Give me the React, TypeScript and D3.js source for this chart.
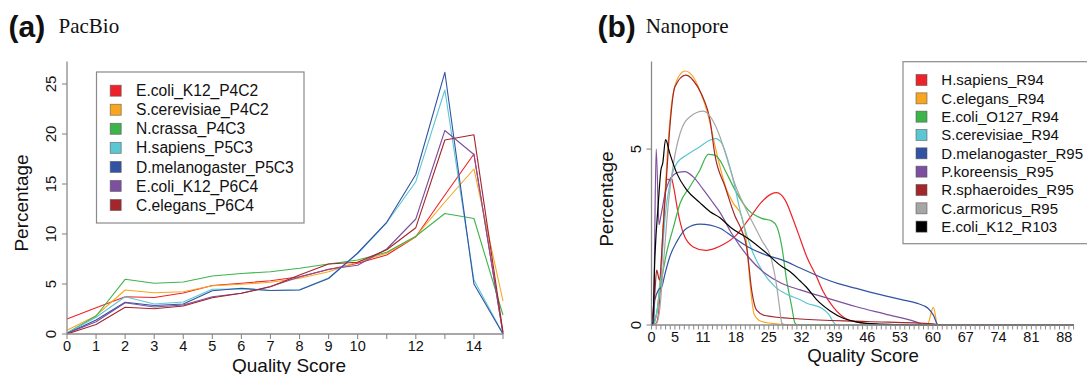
import React from "react";
import * as d3 from "d3";

// ---------- Panel (a) PacBio ----------
const PB_SCORES = [0, 1, 2, 3, 4, 5, 6, 7, 8, 9, 10, 11, 12, 13, 14, 15];
const PB_TICK_LABELS = ["0", "1", "2", "3", "4", "5", "6", "7", "8", "9", "10", "", "12", "", "14", ""];
const PB_Y_TICKS = [0, 5, 10, 15, 20, 25];
const PB_NAMES = [
  "E.coli_K12_P4C2",
  "S.cerevisiae_P4C2",
  "N.crassa_P4C3",
  "H.sapiens_P5C3",
  "D.melanogaster_P5C3",
  "E.coli_K12_P6C4",
  "C.elegans_P6C4",
];
const PB_COLORS = ["#EE2229", "#FAA51E", "#3DB44B", "#5CC6D2", "#3253A3", "#7D4F9F", "#A3262B"];
const PB_ECOLI_P4C2 = [1.5, 2.62, 3.73, 3.65, 4.1, 4.85, 5.07, 5.33, 5.73, 6.45, 7.07, 7.9, 9.72, 13.9, 18.0, 0];
const PB_SCER_P4C2 = [0.37, 1.83, 4.4, 4.13, 4.23, 4.83, 4.97, 5.17, 5.57, 6.23, 7.2, 8.07, 9.75, 13.2, 16.5, 3.3];
const PB_NCRASSA_P4C3 = [0.1, 1.8, 5.47, 5.07, 5.2, 5.8, 6.05, 6.23, 6.57, 7.0, 7.4, 8.17, 9.78, 12.05, 11.55, 1.9];
const PB_HSAP_P5C3 = [0.1, 1.67, 3.73, 3.0, 3.2, 4.47, 4.5, 4.35, 4.42, 5.6, 8.05, 11.15, 15.23, 24.4, 5.4, 0];
const PB_DMEL_P5C3 = [0.05, 1.4, 3.17, 2.85, 3.0, 4.33, 4.58, 4.35, 4.4, 5.55, 8.1, 11.17, 15.95, 26.17, 5.0, 0];
const PB_ECOLI_P6C4 = [0.05, 1.23, 3.13, 2.7, 2.9, 3.73, 4.07, 4.75, 5.7, 6.47, 6.87, 8.5, 11.5, 20.35, 17.95, 0];
const PB_CELE_P6C4 = [0, 0.95, 2.67, 2.53, 2.8, 3.63, 4.07, 4.73, 5.9, 7.0, 7.18, 8.42, 10.63, 19.4, 19.92, 0.2];
const PB_VALUES = [PB_ECOLI_P4C2, PB_SCER_P4C2, PB_NCRASSA_P4C3, PB_HSAP_P5C3, PB_DMEL_P5C3, PB_ECOLI_P6C4, PB_CELE_P6C4];

// ---------- Panel (b) Nanopore ----------
const NP_X_LABELS = [0, 5, 11, 18, 25, 32, 39, 46, 53, 60, 67, 74, 81, 88];
const NP_Y_TICKS = [0, 5];
const NP_NAMES = [
  "H.sapiens_R94",
  "C.elegans_R94",
  "E.coli_O127_R94",
  "S.cerevisiae_R94",
  "D.melanogaster_R95",
  "P.koreensis_R95",
  "R.sphaeroides_R95",
  "C.armoricus_R95",
  "E.coli_K12_R103",
];
const NP_COLORS = ["#EE2229", "#FAA51E", "#3DB44B", "#5CC6D2", "#3253A3", "#7D4F9F", "#A3262B", "#A6A6A6", "#000000"];

const NP_HSAP_R94: [number, number][] = [
  [0, 0], [1, 0.05], [1.5, 0.33], [2.2, 1.85], [2.9, 3.74], [3.4, 4.15], [3.8, 4.12], [4.2, 4.2], [4.7, 3.93],
  [5.7, 3.17], [6.8, 2.6], [8.9, 2.22], [11.5, 2.12], [13.5, 2.18], [15.5, 2.3], [17.8, 2.52], [20.6, 2.98],
  [23.5, 3.5], [25.5, 3.72], [26.7, 3.76], [28.5, 3.55], [30.2, 3.0], [31.7, 2.45], [33.1, 1.94], [35.2, 1.37],
  [36.6, 0.95], [38.8, 0.5], [41.6, 0.17], [45.2, 0.05], [50, 0.01], [55, 0], [90, 0],
];
const NP_CELE_R94: [number, number][] = [
  [0, 0], [1.1, 0.33], [2.0, 1.66], [2.7, 3.27], [3.4, 4.9], [4.3, 6.3], [5.4, 6.96], [7.2, 7.22], [8.9, 7.05],
  [10.5, 6.6], [12, 6.0], [13.2, 5.3], [14.5, 4.55], [16, 3.85], [17.5, 3.45], [19.2, 3.1], [20.3, 2.3],
  [21.0, 1.2], [21.9, 0.3], [23.5, 0.1], [27.8, 0.02], [30, 0], [58.8, 0], [60.1, 0.5], [61, 0], [90, 0],
];
const NP_ECOLI_O127_R94: [number, number][] = [
  [0, 0], [0.4, 0], [1.1, 0.33], [1.8, 1.0], [3.2, 2.04], [4.7, 2.79], [6.1, 3.46], [8.2, 3.93], [10.3, 4.4],
  [12.1, 4.85], [13.5, 4.83], [14.6, 4.68], [15.7, 4.4], [17.8, 3.84], [20.6, 3.27], [23.5, 3.03], [25.6, 2.96],
  [26.7, 2.8], [27.8, 2.22], [28.8, 1.28], [29.9, 0.52], [30.6, 0.05], [31.2, 0], [90, 0],
];
const NP_SCER_R94: [number, number][] = [
  [0, 0], [0.75, 0.14], [1.5, 0.7], [2.2, 1.85], [2.9, 3.08], [3.9, 4.0], [5.4, 4.6], [7.5, 4.83], [10.3, 5.07],
  [12.5, 5.26], [13.7, 5.3], [15, 5.16], [17.1, 4.3], [19.2, 3.08], [21.4, 2.13], [23.5, 1.56], [26.3, 1.09],
  [29.2, 0.85], [31.7, 0.72], [33.1, 0.62], [36.4, 0.47], [37.8, 0.3], [38.8, 0.08], [39.5, 0], [90, 0],
];
const NP_DMEL_R95: [number, number][] = [
  [0, 0], [0.4, 0.05], [0.7, 0.7], [1.5, 1.0], [2.2, 1.09], [2.9, 1.47], [3.9, 1.94], [5.4, 2.37], [7.5, 2.75],
  [10.3, 2.87], [12.5, 2.84], [14.6, 2.75], [17.4, 2.5], [20.6, 2.22], [24.6, 1.98], [27.8, 1.85], [31.7, 1.62],
  [36.6, 1.33], [40, 1.17], [43.7, 1.04], [47, 0.92], [50.8, 0.8], [54, 0.7], [56.5, 0.62], [59, 0.47],
  [60.1, 0.28], [61.1, 0], [90, 0],
];
const NP_PKOR_R95: [number, number][] = [
  [0, 0], [0.4, 0.1], [1.0, 5.0], [1.6, 2.85], [2.0, 3.1], [2.9, 3.74], [3.9, 4.12], [5.7, 4.34], [7.1, 4.36],
  [8.9, 4.21], [11.1, 3.84], [13.2, 3.46], [14.6, 3.2], [17.1, 2.6], [20.6, 1.94], [24.2, 1.47], [27.8, 1.18],
  [31.7, 1.0], [36.6, 0.8], [43.7, 0.52], [50.8, 0.28], [57.2, 0.05], [58, 0], [90, 0],
];
const NP_RSPH_R95: [number, number][] = [
  [0, 0], [0.7, 0.9], [1.1, 1.56], [1.7, 1.28], [2.5, 2.8], [3.2, 4.2], [3.9, 5.6], [5.0, 6.77], [7.3, 7.1],
  [8.9, 6.95], [10.7, 6.55], [12.5, 5.8], [13.5, 4.85], [15.7, 3.93], [17.8, 3.1], [19.2, 2.7], [20.3, 2.2],
  [21.4, 0.95], [22.4, 0.42], [24.2, 0.27], [31.7, 0.17], [45.9, 0.1], [60, 0.03], [62, 0], [90, 0],
];
const NP_CARM_R95: [number, number][] = [
  [0, 0], [1.1, 0.05], [1.8, 0.5], [2.5, 1.66], [3.6, 3.46], [4.7, 4.6], [6.1, 5.45], [8.2, 5.92], [11.1, 6.08],
  [12.8, 5.87], [14.6, 5.35], [15.7, 4.9], [17.8, 4.0], [20.6, 3.17], [23.5, 2.41], [25.6, 1.85], [26.7, 1.1],
  [27.3, 0.5], [27.8, 0.05], [28.5, 0], [90, 0],
];
const NP_ECOLI_K12_R103: [number, number][] = [
  [0, 0], [0.25, 0], [0.7, 1.85], [1.5, 3.55], [2.0, 4.4], [2.4, 4.6], [3.0, 5.27], [3.9, 4.88], [5.4, 4.31],
  [7.5, 3.84], [10.3, 3.48], [12.5, 3.22], [14.6, 3.05], [17.1, 2.75], [20.6, 2.46], [24.2, 2.08], [27.8, 1.66],
  [29.5, 1.52], [31.7, 1.25], [33, 1.08], [35.2, 0.72], [38.1, 0.4], [40.9, 0.19], [43.7, 0.09], [47.9, 0.03],
  [53, 0.01], [58, 0], [90, 0],
];
const NP_VALUES = [
  NP_HSAP_R94, NP_CELE_R94, NP_ECOLI_O127_R94, NP_SCER_R94, NP_DMEL_R95,
  NP_PKOR_R95, NP_RSPH_R95, NP_CARM_R95, NP_ECOLI_K12_R103,
];

const SANS = "'Liberation Sans', Arial, Helvetica, sans-serif";
const SERIF = "'Liberation Serif', 'Times New Roman', serif";
const AXIS = "#8a8a8a";

export default function App() {
  // Panel a scales
  const ax = d3.scaleLinear().domain([0, 15]).range([67, 503]);
  const ay = d3.scaleLinear().domain([0, 27.25]).range([334, 61.5]);
  const aLine = d3
    .line<number>()
    .x((_, i) => ax(PB_SCORES[i]))
    .y((d) => ay(d));

  // Panel b scales
  const bx = d3.scaleLinear().domain([0, 90]).range([651.5, 1073.6]);
  const by = d3.scaleLinear().domain([0, 7.49]).range([325, 61.5]);
  const bLine = d3
    .line<[number, number]>()
    .x((d) => bx(d[0]))
    .y((d) => by(d[1]))
    .curve(d3.curveMonotoneX);
  const bTicks = d3.range(0, 91);

  return (
    <svg
      width={1087}
      height={374}
      style={{ position: "absolute", left: 0, top: 0, background: "#fff" }}
      fontFamily={SANS}
    >
      <rect x={0} y={0} width={1087} height={374} fill="#fff" />

      {/* ----- Panel a ----- */}
      <text x={8.5} y={37} fontSize={30} fontWeight="bold" fill="#111">(a)</text>
      <text x={58.5} y={32.5} fontSize={21} fontFamily={SERIF} fill="#111">PacBio</text>

      {PB_VALUES.map((vals, i) => (
        <path key={i} d={aLine(vals) || ""} fill="none" stroke={PB_COLORS[i]} strokeWidth={1.1} strokeLinejoin="round" />
      ))}

      <line x1={ax(0)} x2={ax(0)} y1={ay(27.25)} y2={ay(0)} stroke={AXIS} strokeWidth={1.3} />
      <line x1={ax(0)} x2={ax(15)} y1={ay(0)} y2={ay(0)} stroke={AXIS} strokeWidth={1.3} />
      {PB_Y_TICKS.map((t) => (
        <g key={t}>
          <line x1={ax(0) - 5} x2={ax(0)} y1={ay(t)} y2={ay(t)} stroke={AXIS} strokeWidth={1.1} />
          <text transform={`translate(${55.5},${ay(t)}) rotate(-90)`} textAnchor="middle" fontSize={15} fill="#111">
            {t}
          </text>
        </g>
      ))}
      {PB_SCORES.map((s, i) => (
        <g key={s}>
          <line x1={ax(s)} x2={ax(s)} y1={ay(0)} y2={ay(0) + 5} stroke={AXIS} strokeWidth={1.1} />
          {PB_TICK_LABELS[i] && (
            <text x={ax(s)} y={350.5} textAnchor="middle" fontSize={14.5} fill="#111">
              {PB_TICK_LABELS[i]}
            </text>
          )}
        </g>
      ))}
      <text x={289} y={371.5} textAnchor="middle" fontSize={19} fill="#111">Quality Score</text>
      <text transform={`translate(${27.6},${203}) rotate(-90)`} textAnchor="middle" fontSize={19} fill="#111">
        Percentage
      </text>

      <rect x={96.5} y={72} width={207.5} height={151} fill="#fff" stroke={AXIS} strokeWidth={1.2} />
      {PB_NAMES.map((n, i) => {
        const cy = 90.7 + i * 19.05;
        return (
          <g key={n}>
            <rect x={110.2} y={cy - 5.5} width={11} height={11} fill={PB_COLORS[i]} stroke="#555" strokeOpacity={0.7} strokeWidth={0.8} />
            <text x={136} y={cy} dy="0.36em" fontSize={15.6} fill="#111">{n}</text>
          </g>
        );
      })}

      {/* ----- Panel b ----- */}
      <text x={597.5} y={37} fontSize={30} fontWeight="bold" fill="#111">(b)</text>
      <text x={645.7} y={32.5} fontSize={21} fontFamily={SERIF} fill="#111">Nanopore</text>

      {NP_VALUES.map((vals, i) => (
        <path key={i} d={bLine(vals) || ""} fill="none" stroke={NP_COLORS[i]} strokeWidth={1.2} strokeLinejoin="round" />
      ))}

      <line x1={bx(0)} x2={bx(0)} y1={by(7.49)} y2={by(0)} stroke={AXIS} strokeWidth={1.3} />
      <line x1={bx(0)} x2={bx(90)} y1={by(0)} y2={by(0)} stroke={AXIS} strokeWidth={1.3} />
      {NP_Y_TICKS.map((t) => (
        <g key={t}>
          <line x1={bx(0) - 5} x2={bx(0)} y1={by(t)} y2={by(t)} stroke={AXIS} strokeWidth={1.1} />
          <text transform={`translate(${641},${by(t)}) rotate(-90)`} textAnchor="middle" fontSize={15} fill="#111">
            {t}
          </text>
        </g>
      ))}
      {bTicks.map((t) => (
        <line key={t} x1={bx(t)} x2={bx(t)} y1={by(0)} y2={by(0) + 4.5} stroke={AXIS} strokeWidth={1} />
      ))}
      {NP_X_LABELS.map((t) => (
        <text key={t} x={bx(t)} y={341.5} textAnchor="middle" fontSize={14.5} fill="#111">{t}</text>
      ))}
      <text x={863} y={362} textAnchor="middle" fontSize={18.6} fill="#111">Quality Score</text>
      <text transform={`translate(${613.4},${199}) rotate(-90)`} textAnchor="middle" fontSize={18.6} fill="#111">
        Percentage
      </text>

      <rect x={903} y={61.7} width={250} height={182} fill="#fff" stroke={AXIS} strokeWidth={1.2} />
      {NP_NAMES.map((n, i) => {
        const cy = 80 + i * 18.33;
        return (
          <g key={n}>
            <rect x={916} y={cy - 5.5} width={11} height={11} fill={NP_COLORS[i]} stroke="#555" strokeOpacity={0.7} strokeWidth={0.8} />
            <text x={941.3} y={cy} dy="0.36em" fontSize={15} fill="#111">{n}</text>
          </g>
        );
      })}
    </svg>
  );
}
